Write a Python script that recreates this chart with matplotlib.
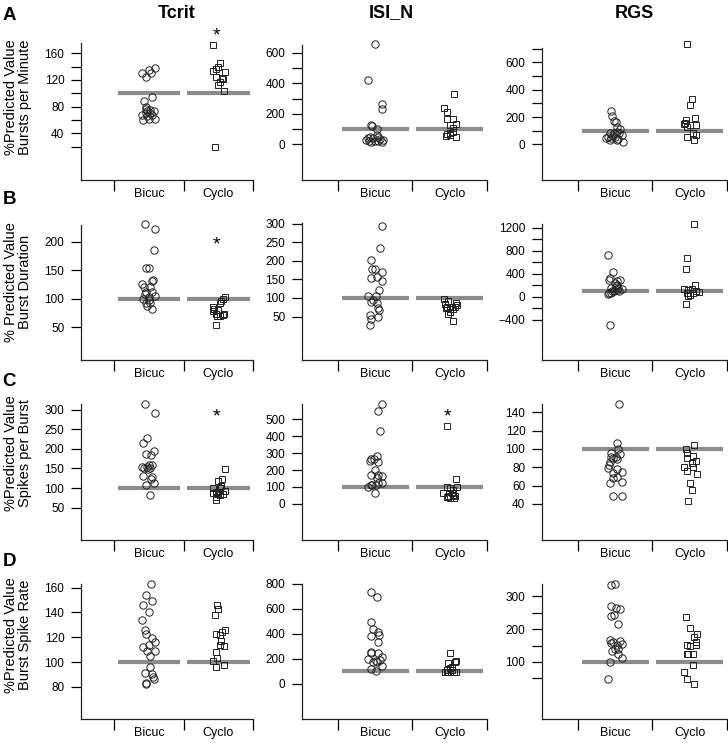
import matplotlib
matplotlib.use("Agg")
import matplotlib.pyplot as plt

plt.rcParams['font.family'] = ['Liberation Sans', 'DejaVu Sans']

groups = ['Bicuc', 'Cyclo']
measures = ['Tcrit', 'ISI_N', 'RGS']
letters = ['A', 'B', 'C', 'D']
row_labels = ['%Predicted Value\nBursts per Minute',
              '% Predicted Value\nBurst Duration',
              '%Predicted Value\nSpikes per Burst',
              '%Predicted Value\nBurst Spike Rate']
predicted = 100

# each point: (jitter inside its group, % predicted value)
# --- bursts per minute
bpm_tcrit_bicuc = [(0.08, 138), (0.00, 135), (0.03, 131), (-0.10, 130), (-0.05, 124), (0.05, 95),
                   (-0.07, 88), (-0.04, 80), (-0.04, 76), (-0.03, 73), (0.07, 73), (0.02, 70),
                   (-0.10, 67), (0.04, 67), (-0.03, 66), (0.00, 62), (0.08, 61), (-0.08, 60),
                   (-0.05, 70), (0.01, 75)]
bpm_tcrit_cyclo = [(-0.08, 173), (0.03, 145), (-0.01, 140), (-0.04, 136), (-0.07, 134), (0.10, 132),
                   (-0.04, 124), (0.05, 123), (0.07, 121), (0.03, 117), (-0.01, 112), (0.08, 104),
                   (-0.05, 20)]
bpm_isi_bicuc = [(0.00, 655), (-0.09, 421), (0.09, 264), (0.09, 231), (-0.05, 127), (-0.04, 122),
                 (0.02, 98), (0.02, 61), (-0.07, 50), (0.04, 46), (-0.09, 44), (-0.03, 39),
                 (0.07, 35), (-0.12, 28), (0.10, 28), (0.00, 24), (-0.05, 17), (0.09, 17),
                 (0.04, 20), (-0.08, 24)]
bpm_isi_cyclo = [(0.06, 327), (-0.07, 240), (-0.04, 214), (-0.03, 166), (0.04, 166), (0.09, 131),
                 (0.00, 127), (0.05, 105), (0.05, 83), (0.00, 76), (-0.04, 65), (0.00, 61),
                 (-0.05, 55), (0.09, 46)]
bpm_rgs_bicuc = [(-0.05, 244), (-0.04, 207), (-0.01, 173), (0.01, 166), (0.03, 129), (0.06, 112),
                 (0.02, 93), (-0.02, 85), (-0.07, 80), (0.05, 80), (0.09, 68), (-0.03, 61),
                 (0.00, 56), (-0.09, 51), (-0.05, 44), (-0.12, 44), (0.04, 37), (-0.07, 32),
                 (0.02, 32), (0.10, 20)]
bpm_rgs_cyclo = [(-0.03, 732), (0.03, 332), (0.00, 285), (0.07, 195), (-0.05, 178), (-0.06, 158),
                 (-0.08, 146), (0.00, 141), (0.09, 141), (-0.03, 129), (0.05, 80), (0.09, 68),
                 (-0.04, 56), (0.06, 32)]
# --- burst duration
dur_tcrit_bicuc = [(-0.06, 231), (0.08, 222), (0.07, 186), (-0.04, 153), (0.00, 153), (0.06, 133),
                   (0.04, 131), (-0.10, 126), (0.02, 121), (-0.07, 120), (-0.04, 112), (0.04, 112),
                   (-0.06, 108), (0.08, 105), (0.00, 103), (-0.09, 99), (0.00, 98), (-0.05, 93),
                   (0.02, 92), (-0.03, 87), (0.04, 83)]
dur_tcrit_cyclo = [(0.10, 103), (0.07, 100), (0.04, 97), (0.03, 92), (-0.07, 85), (-0.06, 83),
                   (0.00, 80), (-0.07, 79), (0.08, 74), (-0.04, 73), (0.07, 72), (-0.02, 70),
                   (0.03, 70), (-0.04, 55)]
dur_isi_bicuc = [(0.09, 295), (0.07, 236), (-0.05, 201), (-0.04, 178), (0.00, 177), (0.09, 171),
                 (0.03, 156), (-0.05, 155), (0.09, 147), (0.05, 122), (0.01, 106), (-0.09, 106),
                 (-0.03, 95), (-0.05, 89), (0.03, 86), (0.04, 72), (0.05, 68), (-0.07, 54),
                 (0.04, 48), (-0.05, 43), (-0.07, 27)]
dur_isi_cyclo = [(-0.07, 97), (-0.02, 93), (0.09, 86), (-0.06, 83), (0.10, 80), (-0.04, 77),
                 (0.03, 75), (0.07, 75), (-0.05, 72), (0.00, 71), (0.05, 71), (0.00, 61),
                 (-0.02, 57), (0.04, 37)]
dur_rgs_bicuc = [(-0.10, 730), (-0.03, 423), (-0.07, 325), (-0.08, 296), (0.06, 284), (0.03, 267),
                 (0.00, 238), (0.03, 209), (0.01, 180), (-0.06, 162), (0.04, 151), (0.09, 133),
                 (0.02, 122), (-0.02, 110), (0.05, 104), (-0.04, 93), (-0.08, 75), (-0.05, 64),
                 (-0.09, 52), (-0.07, -487)]
dur_rgs_cyclo = [(0.06, 1270), (-0.04, 672), (-0.05, 481), (0.07, 209), (-0.08, 139), (0.03, 133),
                 (-0.02, 122), (0.09, 93), (0.12, 81), (-0.04, 75), (0.04, 64), (0.00, 35),
                 (-0.02, 6), (-0.05, -128)]
# --- spikes per burst
spb_tcrit_bicuc = [(-0.06, 315), (0.08, 293), (-0.03, 227), (-0.08, 214), (0.07, 195), (-0.04, 187),
                   (0.03, 184), (0.00, 159), (0.05, 159), (-0.10, 154), (-0.03, 153), (-0.07, 150),
                   (0.02, 150), (-0.01, 148), (-0.08, 130), (0.04, 129), (0.03, 124), (0.07, 112),
                   (-0.05, 107), (0.01, 82)]
spb_tcrit_cyclo = [(0.10, 148), (0.05, 124), (0.00, 118), (0.04, 106), (-0.07, 101), (0.03, 99),
                   (0.09, 93), (-0.03, 90), (0.00, 88), (-0.07, 86), (0.07, 84), (0.03, 82),
                   (-0.04, 77), (-0.03, 69)]
spb_isi_bicuc = [(0.09, 591), (0.04, 551), (0.07, 433), (0.03, 283), (-0.05, 264), (-0.02, 264),
                 (-0.07, 256), (0.04, 250), (0.00, 201), (-0.05, 171), (0.04, 171), (0.09, 165),
                 (0.02, 152), (0.09, 122), (0.04, 122), (-0.06, 112), (0.01, 112), (-0.04, 112),
                 (-0.09, 102), (0.00, 63)]
spb_isi_cyclo = [(-0.04, 461), (0.09, 146), (0.10, 102), (-0.04, 102), (0.00, 93), (0.05, 83),
                 (0.03, 63), (-0.09, 63), (0.04, 53), (-0.02, 47), (0.07, 47), (-0.04, 39),
                 (0.00, 37), (0.06, 33)]
spb_rgs_bicuc = [(0.05, 149), (0.02, 107), (0.04, 100), (-0.05, 96), (0.06, 95), (-0.06, 91),
                 (0.01, 91), (-0.03, 90), (0.03, 89), (-0.07, 86), (-0.08, 83), (-0.09, 79),
                 (0.02, 78), (0.09, 75), (-0.03, 74), (0.03, 69), (-0.03, 68), (0.09, 64),
                 (-0.07, 63), (-0.03, 49), (0.09, 49)]
spb_rgs_cyclo = [(0.06, 104), (-0.05, 100), (-0.04, 96), (0.05, 92), (-0.04, 90), (0.09, 87),
                 (0.03, 85), (-0.08, 80), (0.05, 80), (-0.03, 76), (0.10, 73), (0.00, 63),
                 (0.03, 55), (-0.02, 43)]
# --- burst spike rate
bsr_tcrit_bicuc = [(0.03, 163), (-0.04, 154), (0.04, 149), (-0.08, 146), (0.00, 140), (-0.10, 134),
                   (-0.06, 126), (-0.05, 123), (0.04, 119), (0.08, 116), (0.00, 114), (-0.08, 112),
                   (0.08, 109), (-0.03, 109), (0.02, 105), (0.02, 96), (-0.06, 91), (0.04, 90),
                   (0.06, 88), (0.07, 86), (-0.05, 83), (-0.05, 82)]
bsr_tcrit_cyclo = [(-0.02, 146), (0.00, 143), (-0.05, 138), (0.09, 126), (0.05, 124), (-0.04, 123),
                   (0.03, 122), (0.04, 117), (0.03, 114), (0.08, 113), (-0.04, 108), (-0.02, 103),
                   (-0.08, 101), (0.08, 98), (-0.04, 96)]
bsr_isi_bicuc = [(-0.06, 738), (0.03, 698), (-0.06, 492), (-0.03, 439), (0.04, 412), (0.05, 391),
                 (-0.05, 385), (0.04, 337), (-0.05, 257), (0.04, 249), (-0.06, 243), (0.09, 217),
                 (-0.09, 195), (0.06, 190), (0.01, 182), (0.03, 177), (-0.03, 171), (0.09, 144),
                 (-0.05, 118), (0.01, 104)]
bsr_isi_cyclo = [(0.00, 243), (0.09, 182), (0.07, 170), (-0.02, 163), (0.03, 136), (0.00, 123),
                 (-0.04, 110), (0.03, 110), (-0.06, 96), (-0.02, 91), (0.06, 91), (0.09, 91),
                 (-0.04, 90)]
bsr_rgs_bicuc = [(0.00, 339), (-0.06, 336), (-0.05, 270), (0.01, 266), (0.06, 261), (-0.01, 242),
                 (-0.05, 239), (0.04, 216), (-0.07, 168), (0.07, 165), (-0.03, 161), (-0.05, 158),
                 (0.09, 156), (0.03, 151), (0.00, 141), (0.04, 141), (-0.04, 135), (0.04, 124),
                 (0.09, 112), (-0.07, 99), (-0.09, 48)]
bsr_rgs_cyclo = [(-0.05, 236), (0.00, 204), (0.10, 185), (0.06, 175), (0.09, 160), (-0.04, 153),
                 (0.09, 151), (0.00, 148), (-0.02, 124), (0.04, 124), (-0.04, 124), (0.04, 90),
                 (-0.07, 70), (-0.03, 49), (0.06, 34)]

panels = [
    [(bpm_tcrit_bicuc, bpm_tcrit_cyclo), (bpm_isi_bicuc, bpm_isi_cyclo), (bpm_rgs_bicuc, bpm_rgs_cyclo)],
    [(dur_tcrit_bicuc, dur_tcrit_cyclo), (dur_isi_bicuc, dur_isi_cyclo), (dur_rgs_bicuc, dur_rgs_cyclo)],
    [(spb_tcrit_bicuc, spb_tcrit_cyclo), (spb_isi_bicuc, spb_isi_cyclo), (spb_rgs_bicuc, spb_rgs_cyclo)],
    [(bsr_tcrit_bicuc, bsr_tcrit_cyclo), (bsr_isi_bicuc, bsr_isi_cyclo), (bsr_rgs_bicuc, bsr_rgs_cyclo)],
]

# significance marks: (row, col, value)
stars = [(0, 0, 186), (1, 0, 194), (2, 0, 282), (2, 1, 514)]

# y ticks: (labelled, unlabelled)
yticks = [
    [([40, 80, 120, 160], [20, 60, 100, 140]), ([0, 200, 400, 600], [100, 300, 500]),
     ([0, 200, 400, 600], [100, 300, 500, 700])],
    [([50, 100, 150, 200], []), ([50, 100, 150, 200, 250, 300], []),
     ([-400, 0, 400, 800, 1200], [-200, 200, 600, 1000])],
    [([50, 100, 150, 200, 250, 300], []), ([0, 100, 200, 300, 400, 500], []),
     ([40, 60, 80, 100, 120, 140], [])],
    [([80, 100, 120, 140, 160], []), ([0, 200, 400, 600, 800], []), ([100, 200, 300], [50, 150, 250])],
]
ylims = [
    [(-30, 175.5), (-234, 651), (-261, 705)],
    [(-7, 229), (-67, 302), (-1096, 1264)],
    [(-33, 315), (-213, 590), (0.7, 149)],
    [(54, 163), (-285, 798), (-74, 338)],
]

W, H = 728, 743
fig = plt.figure(figsize=(W / 100, H / 100), dpi=100)

col_left = [81, 302, 542]
col_right = [253, 487, 727]
row_bottom = [180, 360, 540, 719]
panel_top = [[43, 45, 48], [225, 223, 224], [404, 404, 404], [584, 584, 584]]
gray = '#8c8c8c'

for r in range(4):
    for c in range(3):
        l, rt = col_left[c], col_right[c]
        t, b = panel_top[r][c], row_bottom[r]
        ax = fig.add_axes([l / W, 1 - b / H, (rt - l) / W, (b - t) / H])
        for g, mk in enumerate(['o', 's']):
            pos = g + 1
            ax.plot([pos - 0.45, pos + 0.45], [predicted, predicted], color=gray, lw=3,
                    solid_capstyle='butt', zorder=1)
            pts = panels[r][c][g]
            ax.plot([pos + d for d, v in pts], [v for d, v in pts], mk, mfc='none', mec='#222222',
                    ms=5.3 if mk == 'o' else 5.0, mew=0.7, zorder=3, clip_on=False)
        ax.set_xlim(0.02, 2.5)
        ax.set_ylim(*ylims[r][c])
        ax.set_xticks([1, 2])
        ax.set_xticklabels(groups, fontsize=9)
        ax.set_xticks([0.5, 1.5, 2.5], minor=True)
        ax.tick_params(axis='x', which='major', length=0, pad=6)
        ax.tick_params(axis='x', which='minor', length=8, width=0.9, direction='out')
        major, minor = yticks[r][c]
        ax.set_yticks(major)
        ax.set_yticks(minor, minor=True)
        ax.tick_params(axis='y', which='both', length=7, width=0.9, direction='out', labelsize=8.5, pad=5)
        for s in ['top', 'right']:
            ax.spines[s].set_visible(False)
        for s in ['left', 'bottom']:
            ax.spines[s].set_linewidth(0.9)
            ax.spines[s].set_color('#222222')
        ax.patch.set_alpha(0)
        for sr, sc, sv in stars:
            if sr == r and sc == c:
                ax.text(1.97, sv, '*', ha='center', va='center', fontsize=14, clip_on=False)

for c, (name, xc) in enumerate(zip(measures, [177, 391, 634])):
    fig.text(xc / W, 1 - 13 / H, name, ha='center', va='center', fontsize=13, fontweight='bold')

for r, (letter, yc) in enumerate(zip(letters, [15, 200, 382, 562])):
    fig.text(9 / W, 1 - yc / H, letter, ha='center', va='center', fontsize=13.5, fontweight='bold')

for r, (lab, yc) in enumerate(zip(row_labels, [97, 282, 453, 635])):
    fig.text(18 / W, 1 - yc / H, lab, ha='center', va='center', rotation=90, fontsize=10.5,
             linespacing=1.05)

fig.savefig('out.png', dpi=100)
